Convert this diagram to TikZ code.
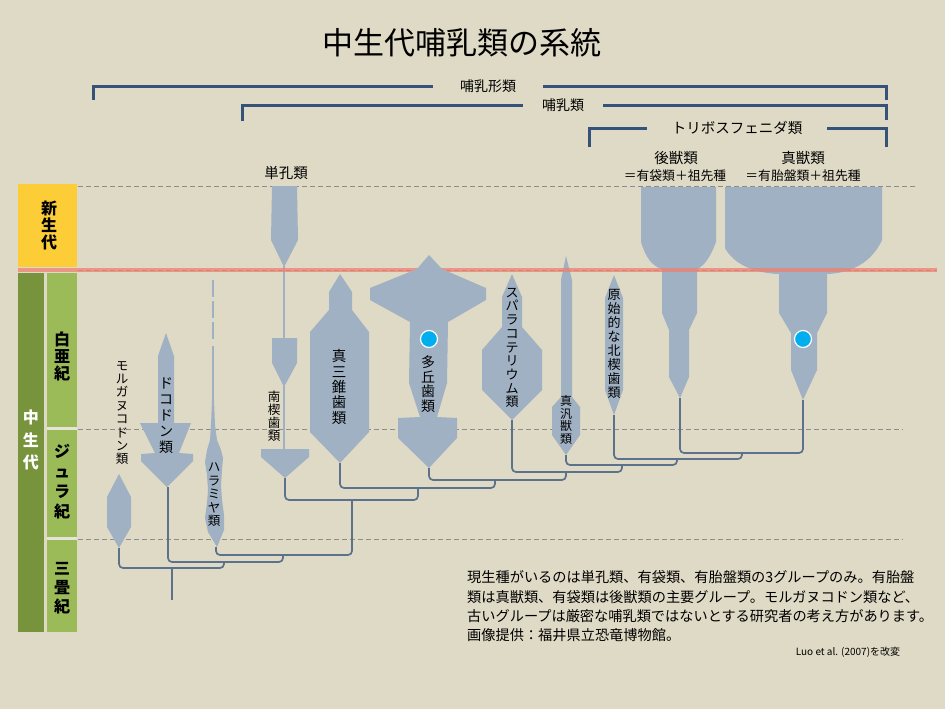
\documentclass[tikz,border=0pt]{standalone}
\usepackage{fontspec}
\setmainfont{Noto Sans CJK JP}
\definecolor{bgc}{HTML}{DFDAC5}
\definecolor{shapecol}{HTML}{9FB1C3}
\definecolor{conncol}{HTML}{5B718C}
\definecolor{brkcol}{HTML}{34527A}
\definecolor{yelc}{HTML}{FDCD38}
\definecolor{dgreen}{HTML}{77933C}
\definecolor{lgreen}{HTML}{9BBB59}
\definecolor{redc}{HTML}{EE7F70}
\definecolor{gridc}{HTML}{8C8C8C}
\definecolor{dotc}{HTML}{00AEEF}
\definecolor{gapc}{HTML}{E6E4DA}
\begin{document}
\begin{tikzpicture}[x=1pt,y=-1pt,
  shp/.style={fill=shapecol,draw=none},
  thin line/.style={draw=shapecol,line width=1.6pt},
  conn/.style={draw=conncol,line width=1.7pt,rounded corners=4pt},
  brk/.style={draw=brkcol,line width=3pt},
  gridl/.style={draw=gridc,line width=0.8pt,dash pattern=on 5pt off 3pt},
  vlab/.style={align=center,inner sep=0pt,text=black},
  lab/.style={inner sep=0pt,text=black},
  bdot/.style={circle,fill=dotc,draw=white,line width=1.2pt,minimum size=17pt,inner sep=0pt}]
\fill[bgc] (0,0) rectangle (945,709);
\useasboundingbox (0,0) rectangle (945,709);

% title
\node[lab,font=\fontsize{31}{31}\selectfont] (title) at (462,43) {中生代哺乳類の系統};

% grid lines
\coordinate (g1a) at (78,186); \coordinate (g1b) at (917,186);
\coordinate (g2a) at (78,270); \coordinate (g2b) at (937,270);
\coordinate (g3a) at (78,429); \coordinate (g3b) at (903,429);
\coordinate (g4a) at (78,539); \coordinate (g4b) at (903,539);
\draw[gridl] (g1a) -- (g1b);
\draw[gridl] (g2a) -- (g2b);
\draw[gridl] (g3a) -- (g3b);
\draw[gridl] (g4a) -- (g4b);

% left column
\fill[yelc] (18,184) rectangle (77,267);
\fill[dgreen] (18,273) rectangle (44,632);
\fill[gapc] (47,427) rectangle (77,430);
\fill[gapc] (47,537) rectangle (77,540);
\fill[lgreen] (47,273) rectangle (77,427);
\fill[lgreen] (47,430) rectangle (77,537);
\fill[lgreen] (47,540) rectangle (77,632);
\node[vlab,font=\bfseries\fontsize{16}{17}\selectfont] (cen) at (49,226) {新\\生\\代};
\node[vlab,font=\bfseries\fontsize{16}{17}\selectfont] (cre) at (62,356) {白\\亜\\紀};
\node[vlab,font=\bfseries\fontsize{16}{20}\selectfont] (jur) at (62,482) {ジ\\ュ\\ラ\\紀};
\node[vlab,font=\bfseries\fontsize{16}{19}\selectfont] (tri) at (62,588) {三\\畳\\紀};
\node[vlab,text=white,font=\bfseries\fontsize{16}{22.5}\selectfont] (mes) at (31,440) {中\\生\\代};

% brackets
\node[lab,font=\fontsize{14}{14}\selectfont,inner xsep=27pt] (bk1) at (488,86) {哺乳形類};
\coordinate (bk1l) at (93,100); \coordinate (bk1r) at (886,100);
\draw[brk] (bk1l) |- (bk1.west); \draw[brk] (bk1r) |- (bk1.east);
\node[lab,font=\fontsize{14}{14}\selectfont,inner xsep=19pt] (bk2) at (563,105) {哺乳類};
\coordinate (bk2l) at (242,121); \coordinate (bk2r) at (886,120);
\draw[brk] (bk2l) |- (bk2.west); \draw[brk] (bk2r) |- (bk2.east);
\node[lab,font=\fontsize{14.5}{14.5}\selectfont,inner xsep=25pt] (bk3) at (737,128) {トリボスフェニダ類};
\coordinate (bk3l) at (589,147); \coordinate (bk3r) at (886,147);
\draw[brk] (bk3l) |- (bk3.west); \draw[brk] (bk3r) |- (bk3.east);

% group labels
\node[lab,font=\fontsize{14.5}{14.5}\selectfont] (monoL) at (286,173) {単孔類};
\node[lab,font=\fontsize{14.5}{14.5}\selectfont] (metaL) at (676,158) {後獣類};
\node[lab,font=\fontsize{12.8}{12.8}\selectfont] (metaL2) at (675,176) {＝有袋類＋祖先種};
\node[lab,font=\fontsize{14.5}{14.5}\selectfont] (euthL) at (803,158) {真獣類};
\node[lab,font=\fontsize{12.8}{12.8}\selectfont] (euthL2) at (803,176) {＝有胎盤類＋祖先種};

% thin lines
\coordinate (haraTop) at (213,280); \coordinate (haraDashEnd) at (213,342);
\coordinate (haraSolid) at (213,346); \coordinate (haraNeck) at (213,402);
\draw[thin line,dash pattern=on 17pt off 4pt] (haraTop) -- (haraDashEnd);
\draw[thin line] (haraSolid) -- (haraNeck);
\coordinate (monoB) at (284,266); \coordinate (ausUT) at (284,339);
\coordinate (ausUB) at (284,386); \coordinate (ausLT) at (284,450);
\draw[thin line] (monoB) -- (ausUT);
\draw[thin line] (ausUB) -- (ausLT);

% shapes
% Morganucodonta
\fill[shp] (119,474) -- (131,497) -- (131,527) -- (119,548) -- (107,527) -- (107,497) -- cycle;
% Docodonta
\fill[shp] (166,333) -- (174,356) -- (174,423) -- (191,423) -- (179,453) -- (193,454) -- (193,461) -- (167,487) -- (141,461) -- (141,454) -- (155,453) -- (140,423) -- (158,423) -- (158,356) -- cycle;
% Haramiyida
\fill[shp] (212,400) -- (214,400) -- (215,425) -- (217,440) -- (221,450) -- (223,458) -- (222,470) -- (221,485) -- (222,500) -- (224,515) -- (224,530) -- (217,547) -- (208,532) -- (205,518) -- (207,503) -- (208,490) -- (207,475) -- (205,462) -- (207,450) -- (210,440) -- (211,425) -- cycle;
% Monotremata
\fill[shp] (272,186) -- (297,186) -- (298,240) -- (284,267) -- (271,240) -- cycle;
% Australosphenida
\fill[shp] (272,338) -- (297,338) -- (297,363) -- (284,387) -- (272,363) -- cycle;
\fill[shp] (261,449) -- (309,449) -- (309,457) -- (285,478) -- (261,457) -- cycle;
% Eutriconodonta
\fill[shp] (340,274) -- (352,292) -- (352,310) -- (369,332) -- (369,432) -- (340,463) -- (310,432) -- (310,332) -- (329,310) -- (329,292) -- cycle;
% Spalacotheriidae
\fill[shp] (512,274) -- (522,297) -- (522,327) -- (542,350) -- (542,390) -- (512,420) -- (482,390) -- (482,350) -- (502,327) -- (502,297) -- cycle;
% Symmetrodont spike
\fill[shp] (566,256) -- (572,280) -- (572,397) -- (580,407) -- (580,435) -- (566,455) -- (552,435) -- (552,407) -- (561,397) -- (561,280) -- cycle;
% Northern tribosphenids
\fill[shp] (614,275) -- (623,298) -- (623,390) -- (614,415) -- (605,390) -- (605,298) -- cycle;
% Metatheria
\fill[shp] (641,187) -- (716,187) -- (716,242) .. controls (710,258) and (704,266) .. (697,269) -- (697,313) -- (689,330) -- (689,377) -- (680,398) -- (669,377) -- (669,330) -- (662,313) -- (662,269) .. controls (652,266) and (646,258) .. (641,242) -- cycle;
% Eutheria
\fill[shp] (725,187) -- (882,187) -- (882,240) .. controls (872,262) and (852,273) .. (827,274) -- (827,313) -- (817,333) -- (817,370) -- (803,400) -- (791,370) -- (791,333) -- (779,313) -- (779,274) .. controls (752,273) and (733,263) .. (725,248) -- cycle;

% red boundary line
\coordinate (redA) at (18,270); \coordinate (redB) at (937,270);
\draw[redc,line width=4.5pt,opacity=0.75] (redA) -- (redB);

% Multituberculata (drawn over the red line)
\fill[shp] (429,255) -- (442,269) -- (486,288) -- (486,300) -- (448,322) -- (447,383) -- (437,417) -- (457,418) -- (457,438) -- (429,468) -- (398,438) -- (398,418) -- (420,417) -- (409,383) -- (410,322) -- (370,300) -- (370,288) -- (417,269) -- cycle;

% blue dots
\node[bdot] (dot1) at (429,339) {};
\node[bdot] (dot2) at (803,339) {};

% tree connectors
\coordinate (morgB) at (119,548);
\coordinate (docoB) at (168,487);
\coordinate (haraB) at (216,547);
\coordinate (ausB) at (285,478);
\coordinate (eutrB) at (340,463);
\coordinate (multB) at (429,468);
\coordinate (spalB) at (512,420);
\coordinate (symB) at (566,455);
\coordinate (nortB) at (614,415);
\coordinate (metaB) at (680,398);
\coordinate (euthB) at (803,400);
\coordinate (u1) at (172,568); \coordinate (rootE) at (172,600);
\coordinate (j2) at (224,562);
\coordinate (j3) at (283,555);
\coordinate (j4) at (352,500);
\coordinate (j5) at (418,488);
\coordinate (j6) at (495,480);
\coordinate (j7) at (566,472);
\coordinate (j8) at (622,465);
\coordinate (j9) at (677,459);
\coordinate (j10) at (742,453);
\draw[conn] (morgB) |- (u1) -| (j2);
\draw[conn] (u1) -- (rootE);
\draw[conn] (docoB) |- (j2) -| (j3);
\draw[conn] (haraB) |- (j3) -| (j4);
\draw[conn] (ausB) |- (j4) -| (j5);
\draw[conn] (eutrB) |- (j5) -| (j6);
\draw[conn] (multB) |- (j6) -| (j7);
\draw[conn] (spalB) |- (j7) -| (j8);
\draw[conn] (symB) |- (j8) -| (j9);
\draw[conn] (nortB) |- (j9) -| (j10);
\draw[conn] (metaB) |- (j10) -| (euthB);

% vertical taxon labels
\node[vlab,font=\fontsize{12.5}{13.4}\selectfont] (morgT) at (122,413) {モ\\ル\\ガ\\ヌ\\コ\\ド\\ン\\類};
\node[vlab,font=\fontsize{14}{16}\selectfont] (docoT) at (166,416) {ド\\コ\\ド\\ン\\類};
\node[vlab,font=\fontsize{12.5}{13.5}\selectfont] (haraT) at (214,495) {ハ\\ラ\\ミ\\ヤ\\類};
\node[vlab,font=\fontsize{12.5}{13}\selectfont] (ausT) at (274,416) {南\\楔\\歯\\類};
\node[vlab,font=\fontsize{14.5}{15.4}\selectfont] (eutrT) at (339,387) {真\\三\\錐\\歯\\類};
\node[vlab,font=\fontsize{14}{14.5}\selectfont] (multT) at (428,384) {多\\丘\\歯\\類};
\node[vlab,font=\fontsize{13}{13.7}\selectfont] (spalT) at (512,348) {ス\\パ\\ラ\\コ\\テ\\リ\\ウ\\ム\\類};
\node[vlab,font=\fontsize{12}{12.5}\selectfont] (symT) at (566,420) {真\\汎\\獣\\類};
\node[vlab,font=\fontsize{13}{14}\selectfont] (nortT) at (614,344) {原\\始\\的\\な\\北\\楔\\歯\\類};

% notes
\node[lab,anchor=west,font=\fontsize{14.2}{14.2}\selectfont] (txt1) at (467,577) {現生種がいるのは単孔類、有袋類、有胎盤類の3グループのみ。有胎盤};
\node[lab,anchor=west,font=\fontsize{14.2}{14.2}\selectfont] (txt2) at (467,597) {類は真獣類、有袋類は後獣類の主要グループ。モルガヌコドン類など、};
\node[lab,anchor=west,font=\fontsize{14.2}{14.2}\selectfont] (txt3) at (467,616) {古いグループは厳密な哺乳類ではないとする研究者の考え方があります。};
\node[lab,anchor=west,font=\fontsize{14.2}{14.2}\selectfont] (txt4) at (467,635) {画像提供：福井県立恐竜博物館。};
\node[lab,font=\fontsize{10}{10}\selectfont] (src) at (848,652) {Luo et al. (2007)を改変};
\end{tikzpicture}
\end{document}
